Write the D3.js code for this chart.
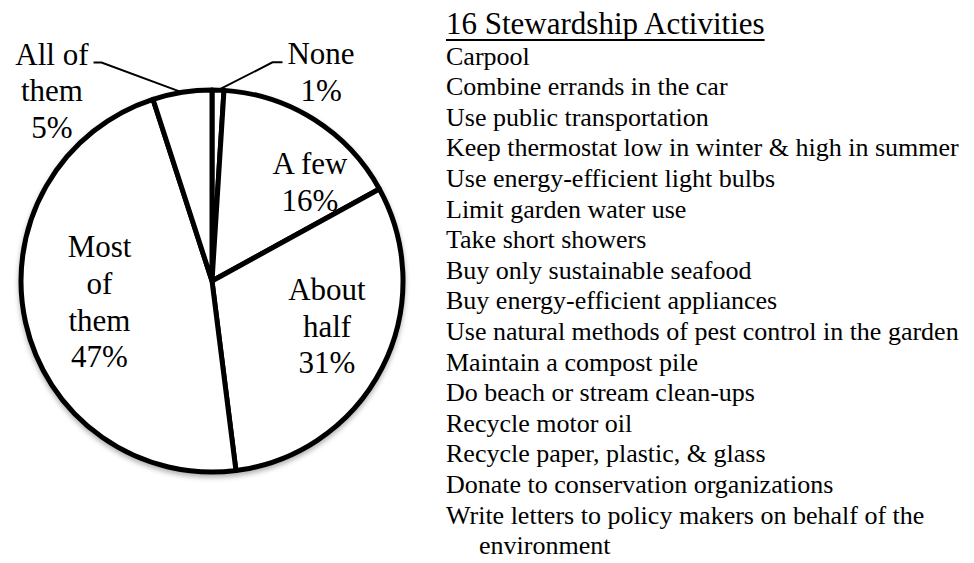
<!DOCTYPE html>
<html>
<head>
<meta charset="utf-8">
<script src="https://cdn.jsdelivr.net/npm/d3@7"></script>
<style>
  html, body { margin: 0; padding: 0; background: #fff; }
  svg { display: block; }
  svg text { font-family: "Liberation Serif", "Times New Roman", Times, serif; }
</style>
</head>
<body>
<svg id="chart" width="974" height="563"></svg>
<script>
// How many of the 16 stewardship activities respondents practise
const categories = ["None", "A few", "About half", "Most of them", "All of them"];
const shares = [1, 16, 31, 47, 5];               // percent of respondents
const categoryLines = [["None"], ["A few"], ["About", "half"], ["Most", "of", "them"], ["All of", "them"]];

const legendTitle = "16 Stewardship Activities";
const activities = [
  "Carpool",
  "Combine errands in the car",
  "Use public transportation",
  "Keep thermostat low in winter & high in summer",
  "Use energy-efficient light bulbs",
  "Limit garden water use",
  "Take short showers",
  "Buy only sustainable seafood",
  "Buy energy-efficient appliances",
  "Use natural methods of pest control in the garden",
  "Maintain a compost pile",
  "Do beach or stream clean-ups",
  "Recycle motor oil",
  "Recycle paper, plastic, & glass",
  "Donate to conservation organizations",
  "Write letters to policy makers on behalf of the environment"
];

// ---- layout ----
const cx = 212, cy = 281, r = 191;
const labelSize = 31, labelLead = 36.6;
// centre of each label block, in radius units from the pie centre
const labelPlacement = {
  "None":         { dx:  0.571, dy: -1.092, leader: "left"  },
  "A few":        { dx:  0.513, dy: -0.516 },
  "About half":   { dx:  0.602, dy:  0.238 },
  "Most of them": { dx: -0.589, dy:  0.110 },
  "All of them":  { dx: -0.838, dy: -0.995, leader: "right" }
};

const svg = d3.select("#chart");

const defs = svg.append("defs");
const shadow = defs.append("filter").attr("id", "pieShadow")
  .attr("x", "-10%").attr("y", "-10%").attr("width", "120%").attr("height", "125%");
shadow.append("feDropShadow")
  .attr("dx", 0).attr("dy", 3).attr("stdDeviation", 2.5)
  .attr("flood-color", "#000").attr("flood-opacity", 0.3);

const data = categories.map((c, i) => ({ category: c, value: shares[i], lines: categoryLines[i] }));

const pie = d3.pie().sort(null).value(d => d.value);
const arc = d3.arc().innerRadius(0).outerRadius(r);
const arcs = pie(data);

const pieG = svg.append("g")
  .attr("transform", `translate(${cx},${cy})`)
  .attr("filter", "url(#pieShadow)");

pieG.selectAll("path.slice")
  .data(arcs)
  .join("path")
  .attr("class", "slice")
  .attr("d", arc)
  .attr("fill", "#fff")
  .attr("stroke", "#000")
  .attr("stroke-width", 5)
  .attr("stroke-linejoin", "round");

// ---- slice labels ----
const labelG = svg.append("g")
  .style("font-size", labelSize + "px")
  .attr("fill", "#000")
  .attr("text-anchor", "middle");

arcs.forEach(a => {
  const d = a.data;
  const p = labelPlacement[d.category];
  const lines = d.lines.concat([`${d.value}%`]);
  const bx = cx + p.dx * r;
  const by = cy + p.dy * r;
  const n = lines.length;
  const baselines = lines.map((_, i) => by + (i - (n - 1) / 2) * labelLead + labelSize * 0.33);

  const t = labelG.append("text");
  lines.forEach((ln, i) => {
    t.append("tspan").attr("x", bx).attr("y", baselines[i]).text(ln);
  });

  if (p.leader) {
    const w = t.select("tspan").node().getComputedTextLength();
    const ly = baselines[0] - 2;
    const mid = (a.startAngle + a.endAngle) / 2;
    const ex = cx + Math.sin(mid) * r;
    const ey = cy - Math.cos(mid) * r;
    let pts;
    if (p.leader === "left") {
      const x0 = bx - w / 2 - 5;
      pts = [[x0, ly], [x0 - 10, ly], [ex, ey]];
    } else {
      const x0 = bx + w / 2 + 5;
      pts = [[x0, ly], [x0 + 8, ly], [ex, ey]];
    }
    svg.append("path")
      .attr("d", d3.line()(pts))
      .attr("fill", "none")
      .attr("stroke", "#000")
      .attr("stroke-width", 2);
  }
});

// ---- activity list ----
const legX = 446, titleBase = 34, itemLead = 30.6, itemSize = 26, titleSize = 31;
const maxLineWidth = 524, hangIndent = 33;

const legend = svg.append("g").attr("fill", "#000");

const title = legend.append("text")
  .attr("x", legX).attr("y", titleBase)
  .style("font-size", titleSize + "px")
  .text(legendTitle);
const titleW = title.node().getComputedTextLength();
legend.append("line")
  .attr("x1", legX).attr("x2", legX + titleW)
  .attr("y1", titleBase + 6).attr("y2", titleBase + 6)
  .attr("stroke", "#000").attr("stroke-width", 2);

// measure helper for wrapping long entries with a hanging indent
const probe = legend.append("text").style("font-size", itemSize + "px").attr("visibility", "hidden");
function textWidth(s) { probe.text(s); return probe.node().getComputedTextLength(); }

const rows = [];
activities.forEach(item => {
  const words = item.split(" ");
  let line = "", first = true;
  words.forEach(w => {
    const test = line ? line + " " + w : w;
    const limit = first ? maxLineWidth : maxLineWidth - hangIndent;
    if (line && textWidth(test) > limit) {
      rows.push({ text: line, indent: first ? 0 : hangIndent });
      line = w; first = false;
    } else {
      line = test;
    }
  });
  rows.push({ text: line, indent: first ? 0 : hangIndent });
});
probe.remove();

legend.selectAll("text.item")
  .data(rows)
  .join("text")
  .attr("class", "item")
  .attr("x", d => legX + d.indent)
  .attr("y", (d, i) => titleBase + itemLead * (i + 1))
  .style("font-size", itemSize + "px")
  .text(d => d.text);
</script>
</body>
</html>
